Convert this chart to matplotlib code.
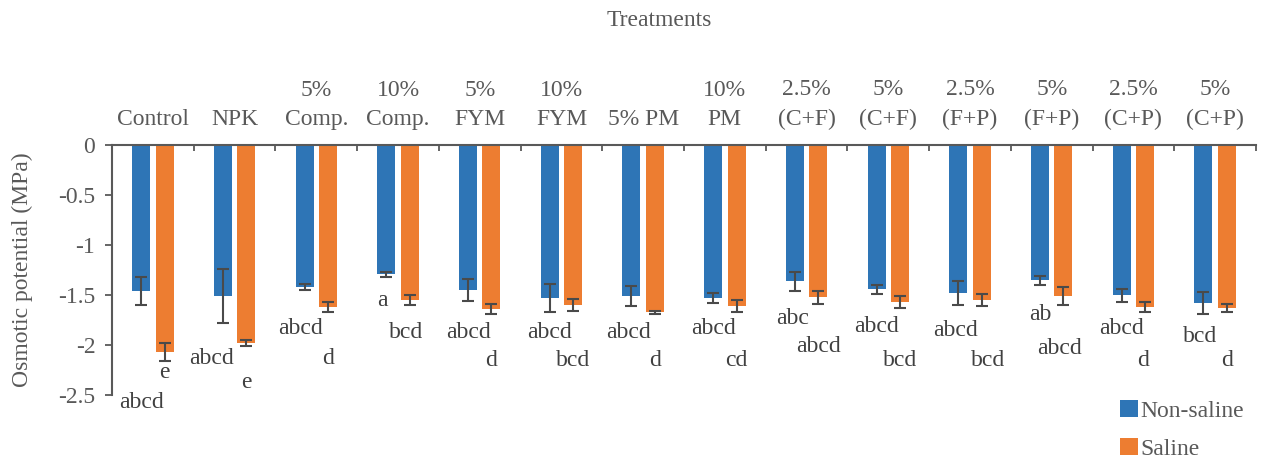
import numpy as np
import matplotlib
matplotlib.use('Agg')
import matplotlib.pyplot as plt
from matplotlib.ticker import FormatStrFormatter

treatments = ['Control', 'NPK', '5%\nComp.', '10%\nComp.', '5%\nFYM', '10%\nFYM',
              '5% PM', '10%\nPM', '2.5%\n(C+F)', '5%\n(C+F)', '2.5%\n(F+P)',
              '5%\n(F+P)', '2.5%\n(C+P)', '5%\n(C+P)']

# osmotic potential (MPa) and standard error
non_saline = [-1.46, -1.51, -1.42, -1.29, -1.45, -1.53, -1.51, -1.53, -1.36, -1.44,
              -1.48, -1.35, -1.50, -1.58]
non_saline_err = [0.14, 0.27, 0.03, 0.025, 0.11, 0.14, 0.10, 0.05, 0.095, 0.045,
                  0.12, 0.045, 0.065, 0.11]
saline = [-2.07, -1.98, -1.62, -1.55, -1.64, -1.60, -1.67, -1.61, -1.52, -1.57,
          -1.55, -1.51, -1.62, -1.63]
saline_err = [0.09, 0.03, 0.05, 0.05, 0.05, 0.06, 0.015, 0.06, 0.065, 0.06,
              0.057, 0.09, 0.05, 0.04]

# significance letters
non_saline_letters = ['abcd', 'abcd', 'abcd', 'a', 'abcd', 'abcd', 'abcd', 'abcd',
                      'abc', 'abcd', 'abcd', 'ab', 'abcd', 'bcd']
saline_letters = ['e', 'e', 'd', 'bcd', 'd', 'bcd', 'd', 'cd', 'abcd', 'bcd', 'bcd',
                  'abcd', 'd', 'd']

# where the letters sit (y in MPa, x nudge in category widths)
ns_label_y = [-2.57, -2.13, -1.84, -1.55, -1.87, -1.88, -1.87, -1.84, -1.74, -1.81,
              -1.85, -1.69, -1.84, -1.91]
ns_label_dx = [0, -0.14, -0.05, -0.05, 0, 0, -0.04, 0, -0.03, 0, -0.04, 0, 0, -0.04]
s_label_y = [-2.27, -2.37, -2.14, -1.88, -2.15, -2.15, -2.15, -2.16, -2.01, -2.15,
             -2.15, -2.03, -2.15, -2.15]
s_label_dx = [0, 0, 0, -0.04, 0, 0, 0, 0, 0, 0, 0.08, -0.05, -0.03, 0]

BLUE = '#2E75B6'
ORANGE = '#ED7D31'
GREY = '#595959'
DARK = '#404040'

plt.rcParams['font.family'] = ['Liberation Serif', 'DejaVu Serif']
plt.rcParams['axes.unicode_minus'] = False

fig = plt.figure(figsize=(12.61, 4.59), dpi=100)
ax = fig.add_axes([112 / 1261, 1 - 395 / 459, 1144 / 1261, 250 / 459])

x = np.arange(len(treatments)) + 0.5
width = 0.22
off = 0.143
err_kw = dict(ecolor='#4a4a4a', elinewidth=1.5, capsize=4, capthick=1.5)
ax.bar(x - off, non_saline, width, yerr=non_saline_err, color=BLUE,
       label='Non-saline', error_kw=err_kw)
ax.bar(x + off, saline, width, yerr=saline_err, color=ORANGE,
       label='Saline', error_kw=err_kw)

fs = 17
for i in range(len(treatments)):
    ax.text(x[i] - off + ns_label_dx[i], ns_label_y[i], non_saline_letters[i],
            ha='center', va='center', fontsize=fs, color=DARK, clip_on=False)
    ax.text(x[i] + off + s_label_dx[i], s_label_y[i], saline_letters[i],
            ha='center', va='center', fontsize=fs, color=DARK, clip_on=False)

ax.set_xlim(0, len(treatments))
ax.set_ylim(-2.5, 0)
ax.set_yticks(np.arange(-2.5, 0.01, 0.5))
ax.yaxis.set_major_formatter(FormatStrFormatter('%g'))

ax.xaxis.tick_top()
ax.set_xticks(x)
ax.set_xticklabels(treatments, linespacing=1.5)
ax.set_xticks(np.arange(len(treatments) + 1), minor=True)
ax.tick_params(axis='x', which='major', length=0, pad=11, labelsize=fs,
               labelcolor=GREY)
ax.tick_params(axis='x', which='minor', direction='in', length=4, width=1.3,
               color=GREY)
ax.tick_params(axis='y', direction='out', length=5, width=1.3, color=GREY,
               labelsize=fs, labelcolor=GREY, pad=7)

for side in ['right', 'bottom']:
    ax.spines[side].set_visible(False)
for side in ['left', 'top']:
    ax.spines[side].set_color(GREY)
    ax.spines[side].set_linewidth(1.5)

ax.set_ylabel('Osmotic potential (MPa)', fontsize=fs, color=GREY)
ax.yaxis.set_label_coords(-0.0785, 0.5)
ax.yaxis.label.set_va('center')

ax.xaxis.set_label_position('top')
ax.set_xlabel('Treatments', fontsize=fs, color=GREY)
ax.xaxis.set_label_coords(0.478, 1.50)
ax.xaxis.label.set_va('center')

fig.legend(loc='upper left', bbox_to_anchor=(1120 / 1261, 1 - 400 / 459),
           frameon=False, fontsize=fs, handlelength=0.75, handleheight=0.75,
           handletextpad=0.1, labelspacing=0.68, borderpad=0, borderaxespad=0,
           labelcolor=GREY)

fig.savefig('out.png', dpi=100)
